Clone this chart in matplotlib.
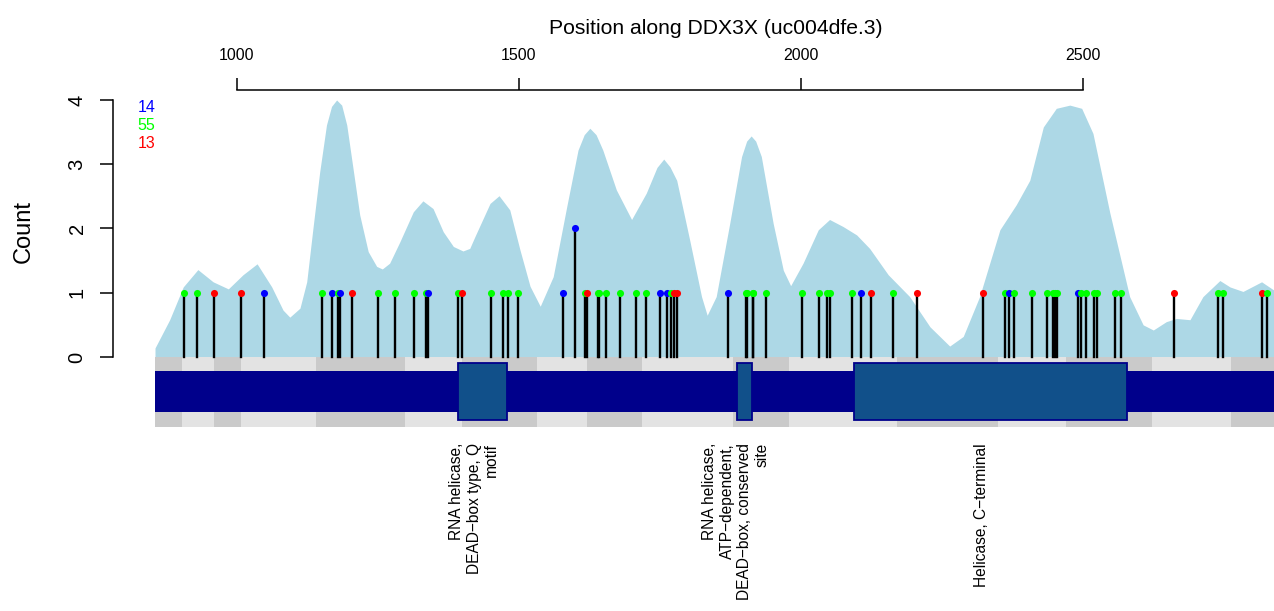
import numpy as np
import matplotlib
matplotlib.use('Agg')
import matplotlib.pyplot as plt

plt.rcParams['font.family'] = ['Liberation Sans', 'DejaVu Sans']

# Smoothed mutation density (position, height)
dens_pos = [855, 881, 905, 931, 958, 985, 1011, 1036, 1062, 1082,
            1094, 1112, 1124, 1135, 1147, 1159, 1168, 1177, 1186, 1195,
            1206, 1218, 1233, 1248, 1258, 1271, 1289, 1313, 1330, 1348,
            1366, 1384, 1401, 1413, 1422, 1449, 1465, 1484,
            1502, 1520, 1538, 1561, 1585, 1605, 1616, 1626, 1637, 1649,
            1673, 1700, 1726, 1745, 1757, 1768, 1780, 1803, 1824, 1834,
            1850, 1874, 1895, 1904, 1912, 1920, 1930, 1951, 1969, 1982,
            2004, 2031, 2051, 2075, 2099, 2122,
            2155, 2193, 2229, 2264, 2288, 2317, 2353, 2382, 2406, 2430,
            2453, 2477, 2498, 2518, 2548, 2583, 2607, 2625, 2648, 2666,
            2690, 2713, 2743, 2761, 2784, 2817, 2839]
dens_val = [0.14, 0.58, 1.09, 1.36, 1.17, 1.06, 1.28, 1.45, 1.09, 0.73,
            0.62, 0.76, 1.17, 2.00, 2.88, 3.61, 3.90, 4.00, 3.92, 3.61,
            2.94, 2.21, 1.64, 1.41, 1.37, 1.46, 1.79, 2.26, 2.43, 2.31,
            1.95, 1.72, 1.65, 1.69, 1.87, 2.39, 2.51, 2.29,
            1.67, 1.1, 0.79, 1.25, 2.34, 3.22, 3.46, 3.56, 3.46, 3.22,
            2.60, 2.14, 2.55, 2.95, 3.08, 2.96, 2.75, 1.82, 0.94, 0.65,
            0.94, 2.08, 3.12, 3.36, 3.44, 3.36, 3.12, 2.08, 1.35, 1.11,
            1.46, 1.98, 2.14, 2.03, 1.90, 1.69,
            1.28, 0.94, 0.47, 0.17, 0.32, 0.94, 1.98, 2.37, 2.75, 3.58,
            3.87, 3.92, 3.87, 3.48, 2.24, 0.94, 0.50, 0.42, 0.55, 0.60,
            0.58, 0.94, 1.19, 1.09, 1.02, 1.17, 1.04]

# Mutations by class
blue_pos = [1048, 1168, 1183, 1339, 1579, 1599, 1750, 1762, 1871, 2106, 2369, 2492]
blue_cnt = [1, 1, 1, 1, 1, 2, 1, 1, 1, 1, 1, 1]
green_pos = [907, 930, 1151, 1179, 1250, 1281, 1314, 1335, 1393, 1451, 1472, 1480,
             1498, 1617, 1640, 1643, 1655, 1680, 1707, 1725, 1770, 1902, 1905,
             1915, 1916, 1939, 2002, 2032, 2046, 2051, 2090, 2164, 2362, 2378,
             2410, 2436, 2448, 2450, 2455, 2497, 2505, 2519, 2526, 2557, 2568,
             2740, 2748, 2826]
red_pos = [959, 1008, 1205, 1399, 1621, 1776, 1781, 2125, 2206, 2323, 2661, 2817]

legend_counts = ['14', '55', '13']
legend_colors = ['#0000FF', '#00FF00', '#FF0000']

# Exon boundaries (alternating shading)
exon_bounds = [855, 902, 959, 1007, 1140, 1299, 1399, 1533, 1621, 1719,
               1879, 1979, 2170, 2350, 2470, 2622, 2762, 2839]

# Protein domains
dom_start = [1393, 1887, 2094]
dom_end = [1479, 1913, 2578]
dom_names = ['RNA helicase,\nDEAD\u2212box type, Q\nmotif',
             'RNA helicase,\nATP\u2212dependent,\nDEAD\u2212box, conserved\nsite',
             'Helicase, C\u2212terminal']

x_lo, x_hi = 855, 2839
y_lo, y_hi = -1.0895, 4.163

fig = plt.figure(figsize=(12.74, 6.11), dpi=100)
ax = fig.add_axes([155/1274, 1 - 427/611, 1119/1274, (427 - 89.5)/611])

ax.fill_between(dens_pos, 0, dens_val, color='#ADD8E6', lw=0, zorder=1)

# exon shading and gene bar
for i in range(len(exon_bounds) - 1):
    c = '#CACACA' if i % 2 == 0 else '#E3E3E3'
    ax.bar(exon_bounds[i], height=-y_lo, width=exon_bounds[i+1] - exon_bounds[i],
           bottom=y_lo, align='edge', color=c, lw=0, zorder=1)
ax.bar(x_lo, height=0.638, width=x_hi - x_lo, bottom=-0.856, align='edge',
       color='#00008B', lw=0, zorder=2)
for s, e, name in zip(dom_start, dom_end, dom_names):
    ax.bar(s, height=0.887, width=e - s, bottom=-0.98, align='edge',
           color='#11508A', edgecolor='#00008B', lw=1.3, zorder=3)
    ax.annotate(name, xy=((s + e) / 2, -1.338), xytext=(-6, 0),
                textcoords='offset points', rotation=90, ha='center', va='top',
                multialignment='right', fontsize=11.2, annotation_clip=False)

# lollipops, drawn in position order
muts = [(p, c, '#0000FF') for p, c in zip(blue_pos, blue_cnt)] + \
       [(p, 1, '#00FF00') for p in green_pos] + \
       [(p, 1, '#FF0000') for p in red_pos]
muts.sort(key=lambda m: m[0])
for p, c, col in muts:
    ax.plot([p, p], [0, c], color='black', lw=1.7, zorder=4)
for p, c, col in muts:
    ax.scatter([p], [c], s=26, color=col, lw=0, zorder=5)

for i, (t, col) in enumerate(zip(legend_counts, legend_colors)):
    ax.text(840, 3.89 - i * 0.285, t, color=col, fontsize=11.5,
            ha='center', va='center', clip_on=False)

ax.set_xlim(x_lo, x_hi)
ax.set_ylim(y_lo, y_hi)

for sp in ['right', 'bottom']:
    ax.spines[sp].set_visible(False)
ax.spines['left'].set_position(('outward', 30.2))
ax.spines['left'].set_bounds(0, 4)
ax.spines['top'].set_bounds(1000, 2500)
ax.spines['left'].set_linewidth(1.1)
ax.spines['top'].set_linewidth(1.1)

ax.xaxis.tick_top()
ax.set_xticks([1000, 1500, 2000, 2500])
ax.set_yticks([0, 1, 2, 3, 4])
ax.set_yticklabels(['0', '1', '2', '3', '4'], rotation=90, va='center')
ax.tick_params(axis='x', length=8.8, width=1.1, pad=10.5, labelsize=11.5)
ax.tick_params(axis='y', length=9.4, width=1.1, pad=9.6, labelsize=14.5)
fig.text(716/1274, 1 - 33.5/611, 'Position along DDX3X (uc004dfe.3)',
         ha='center', va='baseline', fontsize=15.2)
fig.text(23.3/1274, 1 - 231.7/611, 'Count', rotation=90, ha='center',
         va='center', fontsize=17)

fig.savefig('out.png', dpi=100)
